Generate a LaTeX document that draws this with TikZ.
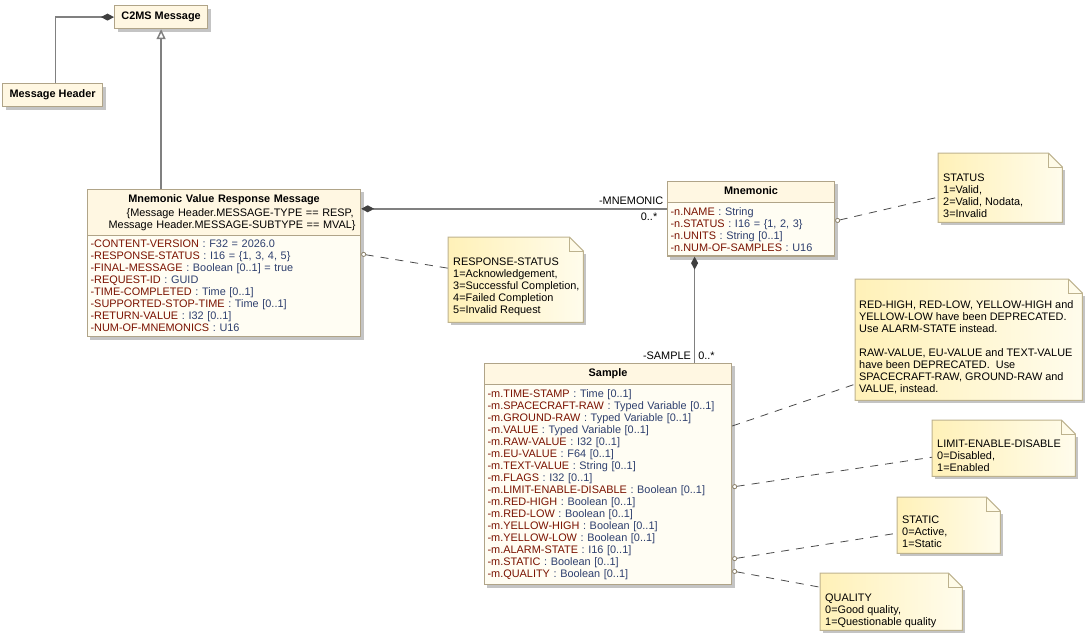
\documentclass[tikz,border=0pt]{standalone}
\usepackage{fontspec}
\setmainfont{Liberation Sans}
\usetikzlibrary{shapes.multipart, arrows.meta, positioning, calc, backgrounds, shadows}
\usepackage{xcolor}
\definecolor{umlBorder}{HTML}{B0A488}
\definecolor{umlFill}{HTML}{FFFDF3}
\definecolor{umlHead}{HTML}{FFF7E2}
\definecolor{noteLeft}{HTML}{FFF1B8}
\definecolor{noteRight}{HTML}{FFFCEC}
\definecolor{noteBorder}{HTML}{BDB28E}
\definecolor{attrName}{HTML}{7A1200}
\definecolor{attrType}{HTML}{2E3F6E}
\definecolor{linkGray}{HTML}{808080}
\definecolor{tipGray}{HTML}{404040}
\definecolor{dashGray}{HTML}{4A4A4A}
\definecolor{shadowGray}{HTML}{C4C4C4}
\newcommand{\attr}[2]{{\color{attrName}#1} {\color{attrType}: #2}}
\newcommand{\classtitle}[1]{\makebox[\hsize][c]{\strut\textbf{#1}}}
% shadow behind a class box
\newcommand{\classshadow}[1]{%
    \begin{scope}[on background layer]
        \fill[shadowGray] ([shift={(3pt,-3pt)}]#1.south west) rectangle ([shift={(3pt,-3pt)}]#1.north east);
    \end{scope}}
% note outline with folded corner, drawn behind the named note node
\newcommand{\drawnote}[1]{%
    \begin{scope}[on background layer]
        \fill[shadowGray] ([shift={(3pt,-3pt)}]#1.south west) rectangle ([shift={(3pt,-17pt)}]#1.north east);
        \path[left color=noteLeft, right color=noteRight, draw=noteBorder, line width=1pt]
            (#1.north west) -- ([xshift=-14pt]#1.north east) -- ([yshift=-14pt]#1.north east)
            -- (#1.south east) -- (#1.south west) -- cycle;
        \draw[noteBorder, line width=1pt] ([xshift=-14pt]#1.north east) |- ([yshift=-14pt]#1.north east);
    \end{scope}}
\tikzset{
    umlfont/.style={font=\fontsize{10.9}{12}\selectfont},
    simpleclass/.style={rectangle, draw=umlBorder, line width=1.2pt, fill=umlHead, anchor=north west, inner sep=0pt, font=\fontsize{10.9}{12}\selectfont\bfseries, drop shadow={shadow xshift=3pt, shadow yshift=-3pt, fill=shadowGray, opacity=1}},
    umlclass/.style={rectangle split, rectangle split parts=2, draw=umlBorder, line width=1.2pt, rectangle split part fill={umlHead,umlFill}, align=left, inner xsep=3pt, inner ysep=4pt, anchor=north west, umlfont},
    notebox/.style={rectangle, anchor=north west, inner sep=0pt},
    notetext/.style={anchor=north west, align=left, inner sep=0pt, umlfont},
    composeEnd/.style={draw=linkGray, line width=1.5pt, -{Diamond[length=13pt, width=7pt, fill=tipGray, color=tipGray]}},
    composeBegin/.style={draw=linkGray, line width=1.5pt, {Diamond[length=13pt, width=7pt, fill=tipGray, color=tipGray]}-},
    generalize/.style={draw=linkGray, line width=1.5pt, -{Triangle[open, length=10pt, width=9pt, fill=white]}},
    noteanchor/.style={draw=dashGray, line width=0.8pt, dash pattern=on 8pt off 7pt, {Circle[open, length=5pt, width=5pt, color=umlBorder!80!black, fill=white, line width=0.8pt]}-},
    notelink/.style={draw=dashGray, line width=0.8pt, dash pattern=on 8pt off 7pt},
    rolelabel/.style={umlfont, inner sep=3pt},
}
\begin{document}
\begin{tikzpicture}[x=1pt, y=-1pt]
    \useasboundingbox (0,0) rectangle (1088,640);

    % classes
    \node[simpleclass, minimum width=93pt, minimum height=23pt] (c2ms) at (114,5) {C2MS Message};
    \node[simpleclass, minimum width=100pt, minimum height=23pt] (msghdr) at (2,83) {Message Header};
    \node[umlclass, text width=267pt] (mvrm) at (87,189) {\classtitle{Mnemonic Value Response Message}\\[2pt]
        \makebox[\hsize][r]{\{Message Header.MESSAGE-TYPE == RESP,\hspace*{4pt}}\\
        \makebox[\hsize][r]{Message Header.MESSAGE-SUBTYPE == MVAL\}\hspace*{2pt}}
        \nodepart{two}
        \attr{-CONTENT-VERSION}{F32 = 2026.0}\\
        \attr{-RESPONSE-STATUS}{I16 = \{1, 3, 4, 5\}}\\
        \attr{-FINAL-MESSAGE}{Boolean [0..1] = true}\\
        \attr{-REQUEST-ID}{GUID}\\
        \attr{-TIME-COMPLETED}{Time [0..1]}\\
        \attr{-SUPPORTED-STOP-TIME}{Time [0..1]}\\
        \attr{-RETURN-VALUE}{I32 [0..1]}\\
        \attr{-NUM-OF-MNEMONICS}{U16}};
    \node[umlclass, text width=161pt] (mnemonic) at (667,181) {\classtitle{Mnemonic}
        \nodepart{two}
        \attr{-n.NAME}{String}\\
        \attr{-n.STATUS}{I16 = \{1, 2, 3\}}\\
        \attr{-n.UNITS}{String [0..1]}\\
        \attr{-n.NUM-OF-SAMPLES}{U16}};
    \node[umlclass, text width=241pt] (sample) at (484,363) {\classtitle{Sample}
        \nodepart{two}
        \attr{-m.TIME-STAMP}{Time [0..1]}\\
        \attr{-m.SPACECRAFT-RAW}{Typed Variable [0..1]}\\
        \attr{-m.GROUND-RAW}{Typed Variable [0..1]}\\
        \attr{-m.VALUE}{Typed Variable [0..1]}\\
        \attr{-m.RAW-VALUE}{I32 [0..1]}\\
        \attr{-m.EU-VALUE}{F64 [0..1]}\\
        \attr{-m.TEXT-VALUE}{String [0..1]}\\
        \attr{-m.FLAGS}{I32 [0..1]}\\
        \attr{-m.LIMIT-ENABLE-DISABLE}{Boolean [0..1]}\\
        \attr{-m.RED-HIGH}{Boolean [0..1]}\\
        \attr{-m.RED-LOW}{Boolean [0..1]}\\
        \attr{-m.YELLOW-HIGH}{Boolean [0..1]}\\
        \attr{-m.YELLOW-LOW}{Boolean [0..1]}\\
        \attr{-m.ALARM-STATE}{I16 [0..1]}\\
        \attr{-m.STATIC}{Boolean [0..1]}\\
        \attr{-m.QUALITY}{Boolean [0..1]}};
    \foreach \c in {mvrm, mnemonic, sample}
        \classshadow{\c};

    % notes
    \node[notebox, minimum width=124pt, minimum height=69pt] (statusnote) at (938,153) {};
    \node[notebox, minimum width=135pt, minimum height=85pt] (respnote) at (448,237) {};
    \node[notebox, minimum width=227pt, minimum height=121pt] (deprnote) at (855,279) {};
    \node[notebox, minimum width=143pt, minimum height=56pt] (limitnote) at (932,420) {};
    \node[notebox, minimum width=103pt, minimum height=56pt] (staticnote) at (897,497) {};
    \node[notebox, minimum width=142pt, minimum height=57pt] (qualnote) at (820,573) {};
    \foreach \n in {statusnote, respnote, deprnote, limitnote, staticnote, qualnote}
        \drawnote{\n};

    \node[notetext] (statustext) at ([shift={(5pt,-21pt)}]statusnote.north west) {STATUS\\1=Valid,\\2=Valid, Nodata,\\3=Invalid};
    \node[notetext] (resptext) at ([shift={(5pt,-21pt)}]respnote.north west) {RESPONSE-STATUS\\1=Acknowledgement,\\3=Successful Completion,\\4=Failed Completion\\5=Invalid Request};
    \node[notetext] (deprtext) at ([shift={(4pt,-21pt)}]deprnote.north west) {RED-HIGH, RED-LOW, YELLOW-HIGH and\\YELLOW-LOW have been DEPRECATED.\\Use ALARM-STATE instead.\\[12pt]RAW-VALUE, EU-VALUE and TEXT-VALUE\\have been DEPRECATED.\ \ Use\\SPACECRAFT-RAW, GROUND-RAW and\\VALUE, instead.};
    \node[notetext] (limittext) at ([shift={(5pt,-20pt)}]limitnote.north west) {LIMIT-ENABLE-DISABLE\\0=Disabled,\\1=Enabled};
    \node[notetext] (statictext) at ([shift={(5pt,-19pt)}]staticnote.north west) {STATIC\\0=Active,\\1=Static};
    \node[notetext] (qualtext) at ([shift={(5pt,-21pt)}]qualnote.north west) {QUALITY\\0=Good quality,\\1=Questionable quality};

    % relations
    \draw[composeEnd] ([xshift=3pt]msghdr.north) |- (c2ms.west);
    \draw[generalize] (mvrm.north -| c2ms.south) -- (c2ms.south);
    \draw[composeEnd] ([yshift=10pt]mnemonic.west) coordinate (mnEnd)
        node[rolelabel, above left] {-MNEMONIC} node[rolelabel, below left, xshift=-6pt] {0..*}
        -- (mnEnd -| mvrm.east);
    \draw[composeBegin] ([xshift=-56.5pt]mnemonic.south) coordinate (smpLink) -- (smpLink |- sample.north)
        node[rolelabel, above left] {-SAMPLE} node[rolelabel, above right] {0..*};

    % note anchors
    \draw[noteanchor] ([yshift=-40pt]mnemonic.north east) -- ([yshift=-9.5pt]statusnote.west);
    \draw[noteanchor] ([yshift=-65pt]mvrm.north east) -- ([yshift=11.5pt]respnote.west);
    \draw[notelink] ([yshift=-63pt]sample.north east) -- ([yshift=-44.5pt]deprnote.west);
    \draw[noteanchor] ([yshift=-124pt]sample.north east) -- ([yshift=-9pt]limitnote.west);
    \draw[noteanchor] ([yshift=-196pt]sample.north east) -- ([yshift=-8pt]staticnote.west);
    \draw[noteanchor] ([yshift=-208pt]sample.north east) -- ([yshift=14.5pt]qualnote.west);
\end{tikzpicture}
\end{document}
